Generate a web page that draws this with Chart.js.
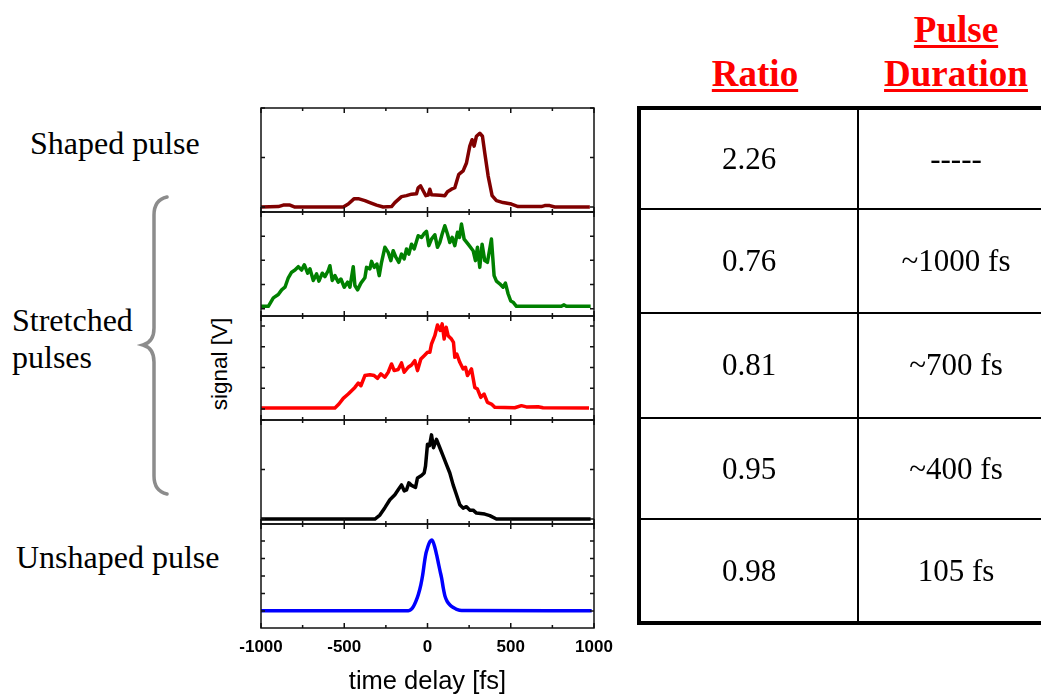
<!DOCTYPE html>
<html lang="en">
<head>
<meta charset="UTF-8">
<title>Pulse shaping</title>
<script src="https://cdn.jsdelivr.net/npm/chart.js"></script>
<style>
  body { margin: 0; width: 1041px; height: 697px; background: #fff; position: relative; overflow: hidden; }
  .lbl { position: absolute; font-family: "Liberation Serif", "Times New Roman", serif; font-size: 32px; line-height: 31px; color: #000; white-space: nowrap; }
  .hdr { position: absolute; width: 200px; text-align: center; font-family: "Liberation Serif", serif; font-weight: bold; font-size: 37px; line-height: 44px; color: #f00;
         text-decoration: underline; text-decoration-thickness: 3px; text-underline-offset: 3px; }
  #ylab { position: absolute; left: 220px; top: 364px; transform: translate(-50%, -50%) rotate(-90deg); font-family: "Liberation Sans", Arial, sans-serif; font-size: 22.5px; white-space: nowrap; }
  #plot { position: absolute; left: 200px; top: 100px; width: 440px; height: 597px; }
  #tbl { position: absolute; left: 637px; top: 106px; width: 412px; border: 4px solid #000; display: grid;
         grid-template-columns: 216px 1fr; grid-template-rows: 97.7px 104.3px 105px 101.5px 102.5px; }
  #tbl div { display: flex; align-items: center; justify-content: center; font-family: "Liberation Serif", serif; font-size: 31px; }
  #tbl .c2 { border-left: 2px solid #000; }
  #tbl .r { border-top: 2px solid #000; }
  #brace { position: absolute; left: 0; top: 0; }
</style>
</head>
<body>
<div class="lbl" style="left:30px; top:128px;">Shaped pulse</div>
<div class="lbl" style="left:12px; top:305px;">Stretched</div>
<div class="lbl" style="left:12px; top:342px;">pulses</div>
<div class="lbl" style="left:16px; top:542px;">Unshaped pulse</div>
<svg id="brace" width="200" height="697">
  <path d="M167,197 C158,199 154,205 154,215 L154,328 C154,338 150,343 143,345 C150,347 154,352 154,362 L154,476 C154,486 158,492 167,494"
        fill="none" stroke="#8c8c8c" stroke-width="3.5" stroke-linecap="round"/>
</svg>
<div id="ylab">signal [V]</div>
<div id="plot"><canvas id="pulses"></canvas></div>

<div class="hdr" style="left:655px; top:52px;">Ratio</div>
<div class="hdr" style="left:856px; top:8px;">Pulse<br>Duration</div>
<div id="tbl"></div>

<script>
// table values
const ratios = ['2.26', '0.76', '0.81', '0.95', '0.98'];
const durations = ['-----', '~1000 fs', '~700 fs', '~400 fs', '105 fs'];

// traces, [time delay fs, signal]
const shapedPulse = [[-1000,0],[-896,0.01],[-866,0.04],[-826,0.04],[-796,0],[-506,0],[-476,0.06],[-440,0.17],[-416,0.17],
  [-376,0.13],[-346,0.09],[-306,0.04],[-266,0],[-216,0.01],[-196,0.09],[-156,0.21],[-126,0.23],[-96,0.26],[-66,0.27],
  [-56,0.39],[-42,0.43],[-26,0.33],[-10,0.23],[4,0.24],[14,0.36],[24,0.25],[74,0.24],[104,0.23],[120,0.31],[144,0.36],
  [164,0.39],[188,0.66],[214,0.73],[234,0.89],[254,1.23],[268,1.36],[280,1.23],[294,1.43],[314,1.49],[330,1.43],
  [344,1.09],[364,0.63],[388,0.23],[414,0.13],[454,0.09],[504,0.06],[544,0.01],[684,0.01],[704,0.03],[734,0.03],
  [764,0],[975,0]];

const stretched1000 = [[-1000,0.1],[-956,0.1],[-926,0.45],[-896,0.59],[-876,0.78],[-856,0.89],[-836,1.28],[-816,1.51],
  [-796,1.6],[-776,1.74],[-756,1.6],[-740,1.82],[-720,1.47],[-706,1.65],[-686,1.17],[-666,1.44],[-652,1.14],[-632,1.47],
  [-616,1.33],[-596,1.58],[-586,1.78],[-572,1.17],[-556,1.37],[-536,1.1],[-520,1.23],[-500,0.89],[-480,1.1],[-466,0.89],
  [-446,1.74],[-436,0.96],[-420,0.78],[-400,1.06],[-376,1.28],[-366,1.71],[-346,1.65],[-336,1.96],[-320,1.71],[-304,1.85],
  [-290,1.37],[-276,1.92],[-256,2.54],[-236,2.33],[-220,1.99],[-206,2.4],[-190,2.13],[-172,1.92],[-156,2.26],[-140,2.06],
  [-126,2.47],[-112,2.26],[-96,2.67],[-80,2.47],[-56,3.02],[-36,2.95],[-20,3.11],[-6,3.2],[8,2.61],[24,2.88],[44,3.06],
  [60,2.54],[74,2.74],[88,3.09],[104,3.43],[120,3.09],[134,2.74],[148,2.95],[164,2.61],[180,3.16],[192,2.95],[204,3.5],
  [220,2.88],[244,2.67],[274,2.4],[288,1.99],[300,2.54],[314,1.71],[328,2.67],[344,1.99],[360,1.92],[384,2.88],[400,1.37],
  [414,1.14],[434,1.03],[454,0.89],[468,1.06],[484,0.62],[500,0.32],[514,0.27],[534,0.1],[804,0.1],[820,0.16],[834,0.1],
  [980,0.1]];

const stretched700 = [[-1000,0.05],[-556,0.05],[-532,0.24],[-506,0.51],[-476,0.72],[-456,0.88],[-436,1.04],[-416,1.25],
  [-400,1.12],[-376,1.61],[-346,1.65],[-320,1.61],[-300,1.48],[-280,1.69],[-256,1.53],[-236,1.77],[-216,2.17],[-200,1.85],
  [-176,1.9],[-156,2.22],[-140,1.77],[-116,2.01],[-96,2.12],[-76,2.33],[-60,1.85],[-40,2.41],[-20,2.57],[0,2.73],[14,2.73],
  [24,3.13],[44,3.53],[60,4.05],[76,3.78],[88,4.1],[100,3.37],[112,3.94],[124,3.53],[144,3.37],[156,3.21],[164,2.49],
  [176,2.65],[194,2.25],[214,1.93],[228,2.01],[240,1.61],[264,1.93],[284,1.04],[300,0.96],[320,0.56],[340,0.72],[360,0.32],
  [384,0.24],[404,0.08],[524,0.06],[564,0.16],[594,0.1],[664,0.11],[694,0.06],[970,0.05]];

const stretched400 = [[-1000,0],[-316,0],[-286,0.08],[-256,0.23],[-226,0.39],[-196,0.49],[-176,0.59],[-156,0.69],
  [-140,0.57],[-126,0.59],[-112,0.73],[-96,0.68],[-72,0.64],[-60,0.83],[-36,0.88],[-20,0.93],[-12,1.07],[0,1.51],
  [12,1.48],[24,1.7],[36,1.44],[54,1.61],[74,1.44],[94,1.27],[114,1.1],[134,0.93],[154,0.69],[174,0.49],[194,0.29],
  [214,0.22],[234,0.25],[254,0.18],[274,0.18],[294,0.12],[344,0.1],[374,0.07],[414,0],[980,0]];

const unshapedPulse = [[-1000,0.02],[-115,0.02],[-100,0.08],[-85,0.25],[-70,0.55],[-55,0.95],[-40,1.5],[-29,2.06],
  [-18,2.8],[-9,3.3],[0,3.6],[11,3.9],[27,4.06],[45,3.6],[55,3.2],[65,2.75],[75,2.3],[85,1.87],[95,1.3],[105,0.85],
  [118,0.55],[135,0.34],[155,0.2],[175,0.1],[205,0.03],[986,0.02]];

const traces = [shapedPulse, stretched1000, stretched700, stretched400, unshapedPulse];
// y range of each panel, top to bottom
const yMins = [-0.1, -0.3, -0.53, -0.1, -0.97];
const yMaxs = [2.0, 4.0, 4.48, 2.0, 4.97];
const colors = ['#800000', '#008000', '#ff0000', '#000000', '#0000ff'];
const panelIds = ['y1', 'y2', 'y3', 'y4', 'y5'];

// table
const tbl = document.getElementById('tbl');
ratios.forEach((r, i) => {
  const a = document.createElement('div');
  a.textContent = r;
  const b = document.createElement('div');
  b.textContent = durations[i];
  b.className = 'c2';
  if (i > 0) { a.className = 'r'; b.className += ' r'; }
  tbl.appendChild(a);
  tbl.appendChild(b);
});

// frames with inward ticks for every panel
const framePlugin = {
  id: 'frames',
  afterDatasetsDraw(chart) {
    const { ctx, chartArea: ca, scales } = chart;
    const xs = scales.x;
    ctx.save();
    ctx.strokeStyle = '#111';
    ctx.lineWidth = 1.5;
    panelIds.forEach(id => {
      const ys = scales[id];
      ctx.strokeRect(ca.left, ys.top, ca.right - ca.left, ys.bottom - ys.top);
      ctx.beginPath();
      for (let v = xs.min; v <= xs.max; v += 250) {
        const px = xs.getPixelForValue(v);
        const len = v % 500 === 0 ? 5 : 3;
        ctx.moveTo(px, ys.top); ctx.lineTo(px, ys.top + len);
        ctx.moveTo(px, ys.bottom); ctx.lineTo(px, ys.bottom - len);
      }
      for (let v = Math.ceil(ys.min); v <= ys.max; v++) {
        const py = ys.getPixelForValue(v);
        ctx.moveTo(ca.left, py); ctx.lineTo(ca.left + 4, py);
        ctx.moveTo(ca.right, py); ctx.lineTo(ca.right - 4, py);
      }
      ctx.stroke();
    });
    ctx.restore();
  }
};

const scales = {
  x: {
    type: 'linear', min: -1000, max: 1000,
    grid: { display: false, drawTicks: false },
    border: { display: false },
    ticks: {
      stepSize: 500, padding: 9, color: '#000', maxRotation: 0, autoSkip: false,
      font: { family: 'Liberation Sans', size: 17, weight: 'bold' },
      callback: v => String(v)
    },
    title: {
      display: true, text: 'time delay [fs]', color: '#000',
      font: { family: 'Liberation Sans', size: 25.5 },
      padding: { top: 0, bottom: 0 }
    }
  }
};
panelIds.forEach((id, i) => {
  scales[id] = {
    type: 'linear', position: 'left', display: false,
    stack: 'panels', stackWeight: 1, weight: panelIds.length - i,
    min: yMins[i], max: yMaxs[i]
  };
});

new Chart(document.getElementById('pulses'), {
  type: 'line',
  data: {
    datasets: traces.map((tr, i) => ({
      data: tr.map(p => ({ x: p[0], y: p[1] })),
      xAxisID: 'x',
      yAxisID: panelIds[i],
      borderColor: colors[i],
      borderWidth: 3.5,
      borderJoinStyle: 'round',
      pointRadius: 0,
      fill: false,
      tension: i === 4 ? 0.4 : 0,
      cubicInterpolationMode: i === 4 ? 'monotone' : 'default'
    }))
  },
  options: {
    responsive: true,
    maintainAspectRatio: false,
    animation: false,
    layout: { padding: { left: 61, right: 46, top: 8, bottom: 0 } },
    plugins: { legend: { display: false }, tooltip: { enabled: false } },
    scales: scales
  },
  plugins: [framePlugin]
});
</script>
</body>
</html>
